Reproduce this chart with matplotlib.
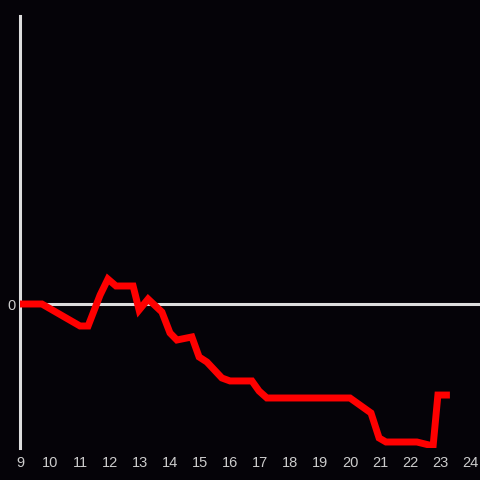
import matplotlib
matplotlib.use("Agg")
from matplotlib import pyplot as plt

hours = [9.0, 9.73, 10.83, 11.0, 11.27, 11.67, 11.93, 12.2, 12.77, 12.97,
         13.27, 13.73, 14.0, 14.23, 14.73, 14.97, 15.23, 15.73, 16.0, 16.73,
         16.97, 17.23, 20.0, 20.7, 20.97, 21.2, 22.23, 22.77, 22.93, 23.33]
values = [0, 0, -1.19, -1.375, -1.375, 0.56, 1.56, 1.125, 1.125, -0.375,
          0.31, -0.5, -1.81, -2.25, -2.06, -3.31, -3.625, -4.625, -4.81, -4.81,
          -5.44, -5.875, -5.875, -6.81, -8.375, -8.625, -8.625, -8.875, -5.69, -5.69]
xticks = list(range(9, 25))

bg = "#050308"
fig = plt.figure(figsize=(4.8, 4.8), dpi=100, facecolor=bg)
ax = fig.add_axes([20/480, 32/480, 460/480, 432/480], facecolor=bg)

ax.axhline(0, color="#dddddd", linewidth=2.2, zorder=1)
ax.plot(hours, values, color="#ff0000", linewidth=5, solid_joinstyle="miter",
        solid_capstyle="butt", zorder=3)

ax.set_xlim(9, 9 + 460/30)
ax.set_ylim(-9, 18)

for s in ["top", "right", "bottom"]:
    ax.spines[s].set_visible(False)
ax.spines["left"].set_color("#dddddd")
ax.spines["left"].set_linewidth(2.2)
ax.spines["left"].set_zorder(2)

ax.set_xticks(xticks)
ax.set_xticklabels([str(t) for t in xticks])
ax.set_yticks([0])
ax.set_yticklabels(["0"])
ax.tick_params(length=0, colors="#cccccc", labelsize=10.5)
ax.tick_params(axis="x", pad=6)
ax.tick_params(axis="y", pad=3)
for lab in ax.get_xticklabels() + ax.get_yticklabels():
    lab.set_family("Liberation Sans")

fig.savefig("out.png", dpi=100, facecolor=bg)
